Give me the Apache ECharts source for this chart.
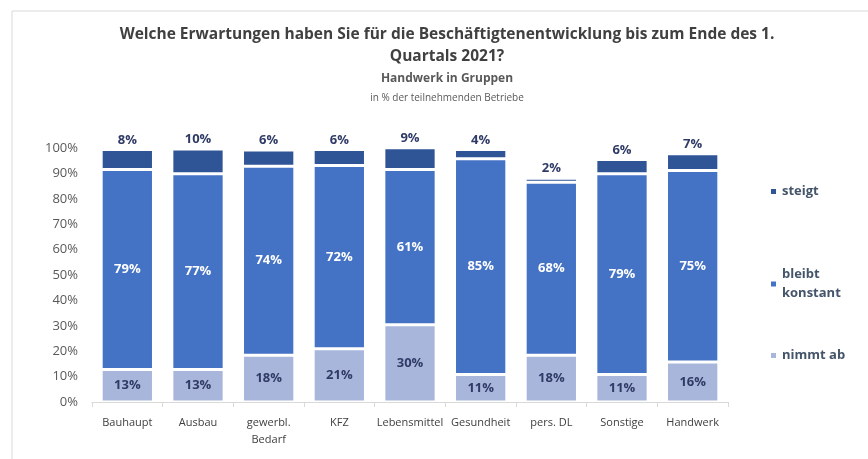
<!DOCTYPE html>
<html>
<head>
<meta charset="utf-8">
<script src="https://cdn.jsdelivr.net/npm/echarts@6/dist/echarts.min.js"></script>
<style>
  html, body { margin: 0; padding: 0; background: #fff; }
  #main { width: 868px; height: 459px; }
</style>
</head>
<body>
<div id="main"></div>
<script>
// Kategorien (x-Achse)
const categories = ['Bauhaupt', 'Ausbau', 'gewerbl.\nBedarf', 'KFZ', 'Lebensmittel', 'Gesundheit', 'pers. DL', 'Sonstige', 'Handwerk'];
// Anteile in %
const nimmtAb = [12.8, 12.8, 18.4, 21.0, 30.4, 10.8, 18.4, 10.8, 15.7];
const bleibtKonstant = [78.7, 77.1, 74.4, 72.1, 61.1, 85.0, 68.1, 79.1, 75.4];
const steigt = [7.9, 9.7, 6.4, 6.3, 8.6, 3.6, 1.6, 5.6, 6.6];
const yTicks = [0, 10, 20, 30, 40, 50, 60, 70, 80, 90, 100];

const FONT = '"Open Sans", "Liberation Sans", sans-serif';
const pct = p => Math.round(p.value) + '%';

const chart = echarts.init(document.getElementById('main'));

const option = {
  animation: false,
  textStyle: { fontFamily: FONT },
  title: [
    {
      text: 'Welche Erwartungen haben Sie für die Beschäftigtenentwicklung bis zum Ende des 1.\nQuartals 2021?',
      left: 442, top: 19, textAlign: 'center',
      textStyle: { fontSize: 15.5, fontWeight: 'bold', color: '#404040', lineHeight: 22, fontFamily: FONT }
    },
    {
      text: 'Handwerk in Gruppen',
      left: 442, top: 68, textAlign: 'center',
      textStyle: { fontSize: 12, fontWeight: 'bold', color: '#595959', fontFamily: FONT }
    },
    {
      text: 'in % der teilnehmenden Betriebe',
      left: 442, top: 88, textAlign: 'center',
      textStyle: { fontSize: 10, fontWeight: 'normal', color: '#595959', fontFamily: FONT }
    }
  ],
  legend: [
    { data: ['steigt'], top: 177, left: 764 },
    { data: ['bleibt konstant'], top: 260, left: 764, formatter: () => 'bleibt\nkonstant' },
    { data: ['nimmt ab'], top: 341, left: 764 }
  ].map(l => Object.assign({
    orient: 'vertical', itemWidth: 7, itemHeight: 7, itemGap: 4, icon: 'rect',
    textStyle: { fontSize: 13, fontWeight: 'bold', color: '#44546A', lineHeight: 19, fontFamily: FONT }
  }, l)),
  grid: { left: 92, right: 140, top: 148, bottom: 57 },
  xAxis: {
    type: 'category',
    data: categories,
    axisLine: { lineStyle: { color: '#d9d9d9' } },
    axisTick: { show: true, length: 5, lineStyle: { color: '#d9d9d9' } },
    axisLabel: { color: '#404040', fontSize: 11, fontWeight: 500, interval: 0, margin: 12, lineHeight: 17, fontFamily: FONT }
  },
  yAxis: {
    type: 'value',
    min: 0, max: 100, interval: 10,
    splitLine: { show: false },
    axisLine: { show: false },
    axisTick: { show: false },
    axisLabel: {
      color: '#595959', fontSize: 13, margin: 14, fontFamily: FONT,
      formatter: v => yTicks.includes(v) ? v + '%' : ''
    }
  },
  series: [
    {
      name: 'nimmt ab', type: 'bar', stack: 'total', data: nimmtAb,
      barCategoryGap: '26%',
      itemStyle: { color: '#A9B6DB', borderColor: '#fff', borderWidth: 1.5 },
      label: { show: true, position: 'inside', formatter: pct, color: '#2F3B66', fontWeight: 'bold', fontSize: 13, fontFamily: FONT }
    },
    {
      name: 'bleibt konstant', type: 'bar', stack: 'total', data: bleibtKonstant,
      itemStyle: { color: '#4472C4', borderColor: '#fff', borderWidth: 1.5 },
      label: { show: true, position: 'inside', formatter: pct, color: '#fff', fontWeight: 'bold', fontSize: 13, fontFamily: FONT }
    },
    {
      name: 'steigt', type: 'bar', stack: 'total', data: steigt,
      itemStyle: { color: '#2F5597', borderColor: '#fff', borderWidth: 1.5 },
      label: { show: true, position: 'top', distance: 3, formatter: pct, color: '#2F3B66', fontWeight: 'bold', fontSize: 13, fontFamily: FONT }
    }
  ],
  graphic: [
    { type: 'line', shape: { x1: 12, y1: 11, x2: 868, y2: 11 }, style: { stroke: '#d9d9d9', lineWidth: 1 } },
    { type: 'line', shape: { x1: 12, y1: 11, x2: 12, y2: 459 }, style: { stroke: '#d9d9d9', lineWidth: 1 } }
  ]
};

chart.setOption(option);
</script>
</body>
</html>
